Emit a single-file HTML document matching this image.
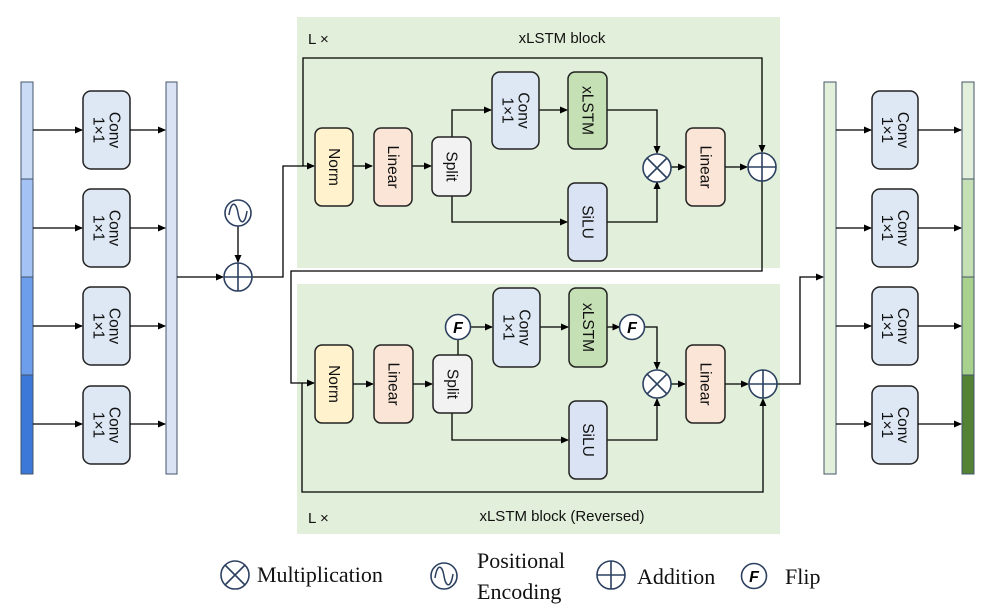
<!DOCTYPE html>
<html><head><meta charset="utf-8"><style>
body{margin:0;background:#fff}
svg{display:block}
.b{font-family:"Liberation Sans",sans-serif;font-size:15.5px;fill:#111}
.t{font-family:"Liberation Sans",sans-serif;font-size:15px;fill:#111}
.s{font-family:"Liberation Serif",serif;font-size:22px;fill:#111}
</style></head><body>
<svg width="996" height="614" viewBox="0 0 996 614" xmlns="http://www.w3.org/2000/svg">
<defs>
<marker id="a" markerWidth="8" markerHeight="8" refX="7" refY="4" orient="auto" markerUnits="userSpaceOnUse"><path d="M0,0.5 L8,4 L0,7.5z" fill="#000"/></marker>
<g id="pl"><circle r="14" fill="#fff" stroke="#2c4060" stroke-width="1.6"/><path d="M-14,0H14M0,-14V14" stroke="#2c4060" stroke-width="1.6"/></g>
<g id="mu"><circle r="14" fill="#fff" stroke="#2c4060" stroke-width="1.6"/><path d="M-10,-10L10,10M10,-10L-10,10" stroke="#2c4060" stroke-width="1.6"/></g>
<g id="pe"><circle r="13" fill="#fff" stroke="#2c4060" stroke-width="1.6"/><path d="M-9,2 C-7,-12 -2,-12 0,0 C2,12 7,12 9,-2" fill="none" stroke="#2c4060" stroke-width="1.5"/></g>
<g id="ff"><circle r="12.5" fill="#fff" stroke="#2c4060" stroke-width="1.6"/><text x="0" y="6" text-anchor="middle" font-family="Liberation Sans,sans-serif" font-size="16" font-weight="bold" font-style="italic" fill="#000">F</text></g>
</defs>
<rect x="297" y="17" width="483" height="251" fill="#e2efda"/>
<rect x="297" y="284" width="483" height="250" fill="#e2efda"/>
<g stroke="#44546a" stroke-width="1">
<rect x="21" y="82" width="12" height="97" fill="#c9dbf5"/>
<rect x="21" y="179" width="12" height="98" fill="#a4c2f4"/>
<rect x="21" y="277" width="12" height="98" fill="#6d9eeb"/>
<rect x="21" y="375" width="12" height="99" fill="#3c78d8"/>
<rect x="166" y="82" width="11" height="392" fill="#dae3f3"/>
<rect x="824" y="82" width="12" height="392" fill="#e2efda"/>
<rect x="962" y="82" width="12" height="97" fill="#e2efda"/>
<rect x="962" y="179" width="12" height="98" fill="#c5e0b4"/>
<rect x="962" y="277" width="12" height="98" fill="#a9d18e"/>
<rect x="962" y="375" width="12" height="99" fill="#548235"/>
</g>
<g stroke="#222" stroke-width="1.5" fill="#dde8f4">
<rect x="83" y="91" width="47" height="78" rx="8"/>
<rect x="83" y="189" width="47" height="78" rx="8"/>
<rect x="83" y="287" width="47" height="78" rx="8"/>
<rect x="83" y="386" width="47" height="78" rx="8"/>
<rect x="872" y="91" width="46" height="78" rx="8"/>
<rect x="872" y="189" width="46" height="78" rx="8"/>
<rect x="872" y="287" width="46" height="78" rx="8"/>
<rect x="872" y="386" width="46" height="78" rx="8"/>
</g>
<g class="b">
<text transform="translate(106.5,130) rotate(90)" text-anchor="middle"><tspan x="0" y="-3">Conv</tspan><tspan x="0" y="13">1×1</tspan></text>
<text transform="translate(106.5,228) rotate(90)" text-anchor="middle"><tspan x="0" y="-3">Conv</tspan><tspan x="0" y="13">1×1</tspan></text>
<text transform="translate(106.5,326) rotate(90)" text-anchor="middle"><tspan x="0" y="-3">Conv</tspan><tspan x="0" y="13">1×1</tspan></text>
<text transform="translate(106.5,425) rotate(90)" text-anchor="middle"><tspan x="0" y="-3">Conv</tspan><tspan x="0" y="13">1×1</tspan></text>
<text transform="translate(895,130) rotate(90)" text-anchor="middle"><tspan x="0" y="-3">Conv</tspan><tspan x="0" y="13">1×1</tspan></text>
<text transform="translate(895,228) rotate(90)" text-anchor="middle"><tspan x="0" y="-3">Conv</tspan><tspan x="0" y="13">1×1</tspan></text>
<text transform="translate(895,326) rotate(90)" text-anchor="middle"><tspan x="0" y="-3">Conv</tspan><tspan x="0" y="13">1×1</tspan></text>
<text transform="translate(895,425) rotate(90)" text-anchor="middle"><tspan x="0" y="-3">Conv</tspan><tspan x="0" y="13">1×1</tspan></text>
</g>
<g stroke="#000" stroke-width="1.3" fill="none" marker-end="url(#a)">
<path d="M33,130H82"/><path d="M33,228H82"/><path d="M33,326H82"/><path d="M33,424H82"/>
<path d="M130,130H165"/><path d="M130,228H165"/><path d="M130,326H165"/><path d="M130,424H165"/>
<path d="M836,130H871"/><path d="M836,228H871"/><path d="M836,326H871"/><path d="M836,424H871"/>
<path d="M918,130H961"/><path d="M918,228H961"/><path d="M918,326H961"/><path d="M918,424H961"/>
<path d="M177,277H223"/><path d="M238,226V262"/>
<path d="M252,277H283V166H314"/>
<path d="M303,166V58H762V152"/>
<path d="M762,181V271H291V383H314"/>
<path d="M353,166H372"/><path d="M412,166H431"/>
<path d="M452,137V110H491"/><path d="M539,110H567"/>
<path d="M607,110H657V153"/>
<path d="M452,196V222H567"/><path d="M607,222H657V182"/>
<path d="M671,167H685"/><path d="M725,167H747"/>
<path d="M302,383V492H763V399"/>
<path d="M353,384H373"/><path d="M413,384H432"/>
<path d="M470,327H492"/><path d="M540,327H568"/>
<path d="M607,327H619.5"/>
<path d="M644.5,327H657V369"/>
<path d="M452,413V440H568"/><path d="M607,440H657V399"/>
<path d="M671,384H685"/><path d="M725,384H748"/>
<path d="M777,384H800V277H823"/>
</g>
<path d="M458,355V339" stroke="#000" stroke-width="1.3"/>
<g stroke="#222" stroke-width="1.5">
<rect x="315" y="128" width="38" height="78" rx="7" fill="#fff2cc"/>
<rect x="374" y="128" width="38" height="78" rx="7" fill="#fbe5d6"/>
<rect x="432" y="137" width="39" height="59" rx="7" fill="#f2f2f2"/>
<rect x="492" y="72" width="47" height="77" rx="8" fill="#dde8f4"/>
<rect x="568" y="72" width="39" height="77" rx="7" fill="#c5e0b4"/>
<rect x="568" y="183" width="39" height="78" rx="7" fill="#dae3f3"/>
<rect x="686" y="128" width="39" height="78" rx="7" fill="#fbe5d6"/>
<rect x="315" y="345" width="38" height="78" rx="7" fill="#fff2cc"/>
<rect x="374" y="345" width="39" height="78" rx="7" fill="#fbe5d6"/>
<rect x="433" y="355" width="39" height="58" rx="7" fill="#f2f2f2"/>
<rect x="493" y="288" width="47" height="79" rx="8" fill="#dde8f4"/>
<rect x="569" y="288" width="38" height="79" rx="7" fill="#c5e0b4"/>
<rect x="569" y="401" width="38" height="78" rx="7" fill="#dae3f3"/>
<rect x="686" y="345" width="39" height="78" rx="7" fill="#fbe5d6"/>
</g>
<g class="b">
<text transform="translate(334,167) rotate(90)" text-anchor="middle" y="5">Norm</text>
<text transform="translate(393,167) rotate(90)" text-anchor="middle" y="5">Linear</text>
<text transform="translate(451.5,166.5) rotate(90)" text-anchor="middle" y="5">Split</text>
<text transform="translate(515.5,110.5) rotate(90)" text-anchor="middle"><tspan x="0" y="-3">Conv</tspan><tspan x="0" y="13">1×1</tspan></text>
<text transform="translate(587.5,110.5) rotate(90)" text-anchor="middle" y="5">xLSTM</text>
<text transform="translate(587.5,222) rotate(90)" text-anchor="middle" y="5">SiLU</text>
<text transform="translate(705.5,167) rotate(90)" text-anchor="middle" y="5">Linear</text>
<text transform="translate(334,384) rotate(90)" text-anchor="middle" y="5">Norm</text>
<text transform="translate(393.5,384) rotate(90)" text-anchor="middle" y="5">Linear</text>
<text transform="translate(452.5,384) rotate(90)" text-anchor="middle" y="5">Split</text>
<text transform="translate(516.5,327.5) rotate(90)" text-anchor="middle"><tspan x="0" y="-3">Conv</tspan><tspan x="0" y="13">1×1</tspan></text>
<text transform="translate(588,327.5) rotate(90)" text-anchor="middle" y="5">xLSTM</text>
<text transform="translate(588,440) rotate(90)" text-anchor="middle" y="5">SiLU</text>
<text transform="translate(705.5,384) rotate(90)" text-anchor="middle" y="5">Linear</text>
</g>
<g class="t">
<text x="308" y="44">L ×</text>
<text x="562" y="43" text-anchor="middle">xLSTM block</text>
<text x="308" y="523">L ×</text>
<text x="562" y="521" text-anchor="middle">xLSTM block (Reversed)</text>
</g>
<use href="#pe" x="238" y="213"/>
<use href="#pl" x="238" y="277"/>
<use href="#mu" x="657" y="168"/>
<use href="#pl" x="762" y="167"/>
<use href="#mu" x="657" y="384"/>
<use href="#pl" x="763" y="384"/>
<use href="#ff" x="458" y="327"/>
<use href="#ff" x="632" y="327"/>
<use href="#mu" x="235" y="575"/>
<text class="s" x="257" y="582">Multiplication</text>
<use href="#pe" x="444" y="576"/>
<text class="s" x="477" y="568">Positional</text>
<text class="s" x="477" y="599">Encoding</text>
<use href="#pl" x="611" y="575"/>
<text class="s" x="637" y="584">Addition</text>
<use href="#ff" x="754" y="576"/>
<text class="s" x="785" y="584">Flip</text>
</svg>
</body></html>
